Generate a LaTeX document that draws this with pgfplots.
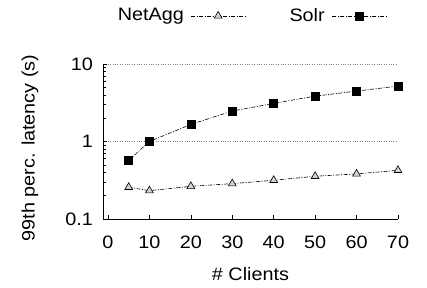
\documentclass[border=0pt]{standalone}
\usepackage{fontspec}
\setmainfont{Liberation Sans}[FakeStretch=1.1]
\usepackage{pgfplots}
\pgfplotsset{compat=1.18}
\begin{document}
\fontsize{18}{21}\selectfont
\begin{tikzpicture}
\begin{axis}[
  name=ax,
  scale only axis,
  width=295pt, height=155pt,
  ymode=log,
  xmin=-1.2, xmax=70,
  ymin=0.1, ymax=10,
  xtick={0,10,20,30,40,50,60,70},
  ytick={0.1,1,10},
  yticklabels={0.1,1,10},
  /pgf/number format/assume math mode=true,
  axis x line*=bottom,
  axis y line*=left,
  axis line style={-, line width=0.7pt},
  tick style={black, line width=0.5pt},
  major tick length=4pt,
  minor tick length=2.5pt,
  tick align=inside,
  ymajorgrids,
  major grid style={dotted, gray, line width=0.6pt},
  xticklabel style={yshift=-11pt},
  yticklabel style={xshift=-4pt},
  xlabel={\# Clients},
  ylabel={99th perc. latency (s)},
  xlabel style={at={(axis description cs:0.5,-0.355)}, anchor=center},
  ylabel style={at={(axis description cs:-0.2475,0.458)}, anchor=center},
  legend columns=2,
  legend plot pos=right,
  legend style={draw=none, at={(0.502,1.31)}, anchor=center, fill=none,
    /tikz/every odd column/.append style={column sep=5pt},
    /tikz/every even column/.append style={column sep=42pt}},
  legend image code/.code={\draw[mark repeat=2, mark phase=2] plot coordinates {(0pt,0pt) (27pt,0pt) (54pt,0pt)};},
]
\addplot[black, line width=0.6pt, dash pattern=on 4pt off 1.5pt on 1pt off 1.5pt,
  mark=triangle*, mark size=4.5pt, mark options={solid, fill=gray!35, draw=black}]
  coordinates {(5,0.257) (10,0.232) (20,0.264) (30,0.286) (40,0.316) (50,0.356) (60,0.382) (70,0.425)};
\addlegendentry{NetAgg}
\addplot[black, line width=0.6pt, dash pattern=on 4pt off 1.5pt on 1pt off 1.5pt,
  mark=square*, mark size=4pt, mark options={solid, fill=black}]
  coordinates {(5,0.57) (10,1.0) (20,1.66) (30,2.47) (40,3.1) (50,3.85) (60,4.47) (70,5.19)};
\addlegendentry{Solr}
\end{axis}
\path ([shift={(-103pt,-69pt)}]ax.south west) rectangle ([shift={(29pt,64pt)}]ax.north east);
\end{tikzpicture}
\end{document}
